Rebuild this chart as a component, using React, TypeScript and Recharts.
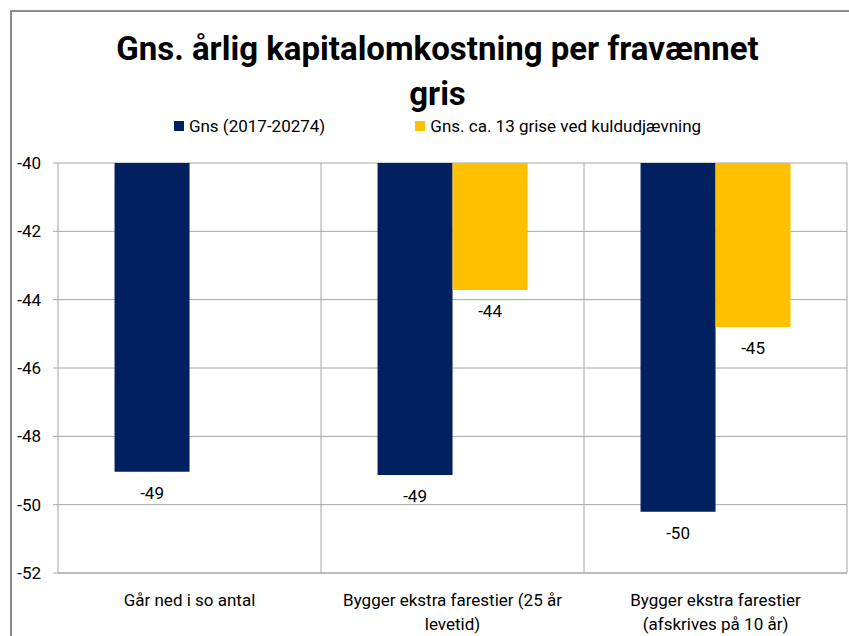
import React from 'react';
import { BarChart, Bar, XAxis, YAxis, CartesianGrid, LabelList, Text } from 'recharts';

const categories = ['Går ned i so antal', 'Bygger ekstra farestier (25 år\nlevetid)', 'Bygger ekstra farestier\n(afskrives på 10 år)'];
const gnsValues = [-49.04, -49.13, -50.21];
const kuldValues: Array<number | null> = [null, -43.72, -44.8];
const yTicks = [-52, -50, -48, -46, -44, -42, -40];
const seriesNames = ['Gns (2017-20274)', 'Gns. ca. 13 grise ved kuldudjævning'];
const seriesColors = ['#002060', '#FFC000'];
const titleLines = ['Gns. årlig kapitalomkostning per fravænnet', 'gris'];

const data = categories.map((name, i) => ({ name, gns: gnsValues[i], kuld: kuldValues[i] }));

const FONT = '"Liberation Sans Narrow", "Roboto", sans-serif';

function ValueLabel(props: any) {
  const { x, y, width, height, value } = props;
  if (value == null) return null;
  const bottom = Math.max(Number(y), Number(y) + Number(height));
  return (
    <text x={Number(x) + Number(width) / 2} y={bottom + 21} textAnchor="middle" dominantBaseline="central" fontSize={17} fill="#000" fontFamily={FONT}>
      {Math.round(Number(value))}
    </text>
  );
}

function CategoryTick(props: any) {
  const { x, y, payload } = props;
  const lines = String(payload.value).split('\n');
  return (
    <g>
      {lines.map((line, i) => (
        <Text key={i} x={x} y={y + 19 + i * 24} textAnchor="middle" verticalAnchor="middle" fontSize={17} fill="#000" fontFamily={FONT}>
          {line}
        </Text>
      ))}
    </g>
  );
}

export default function App() {
  return (
    <div style={{ position: 'absolute', left: 0, top: 0, width: 849, height: 636, overflow: 'hidden', background: '#fff', fontFamily: FONT }}>
      <div style={{ position: 'absolute', left: 10, top: 10, width: 855, height: 700, border: '2px solid #8c8c8c', boxSizing: 'border-box' }} />
      <div style={{ position: 'absolute', left: 10, top: 26, width: 855, textAlign: 'center', fontWeight: 'bold', fontSize: 33, lineHeight: '45px', color: '#000' }}>
        {titleLines.map((t) => (
          <div key={t}>{t}</div>
        ))}
      </div>
      <div style={{ position: 'absolute', left: 10, top: 116, width: 855, display: 'flex', justifyContent: 'center', gap: 90, fontSize: 17, color: '#000' }}>
        {seriesNames.map((n, i) => (
          <div key={n} style={{ display: 'flex', alignItems: 'center', gap: 5 }}>
            <span style={{ width: 10, height: 10, background: seriesColors[i], display: 'inline-block' }} />
            <span>{n}</span>
          </div>
        ))}
      </div>
      <div style={{ position: 'absolute', left: 0, top: 0 }}>
        <BarChart width={849} height={636} data={data} margin={{ top: 163, right: 2, bottom: 33, left: 0 }} barCategoryGap="21.5%" barGap={0}>
          <CartesianGrid
            stroke="#a6a6a6"
            verticalCoordinatesGenerator={({ offset }: any) =>
              categories.map((_, i) => offset.left + (offset.width * (i + 1)) / categories.length)
            }
          />
          <XAxis dataKey="name" height={30} axisLine={{ stroke: '#a6a6a6' }} tickLine={false} tick={<CategoryTick />} interval={0} />
          <YAxis
            width={58}
            domain={[-52, -40]}
            ticks={yTicks}
            interval={0}
            axisLine={{ stroke: '#a6a6a6' }}
            tickLine={{ stroke: '#a6a6a6' }}
            tickSize={5}
            tickMargin={12}
            tick={{ fill: '#000', fontSize: 17, fontFamily: FONT }}
          />
          <Bar dataKey="gns" fill={seriesColors[0]} isAnimationActive={false}>
            <LabelList dataKey="gns" content={<ValueLabel />} />
          </Bar>
          <Bar dataKey="kuld" fill={seriesColors[1]} isAnimationActive={false}>
            <LabelList dataKey="kuld" content={<ValueLabel />} />
          </Bar>
        </BarChart>
      </div>
    </div>
  );
}
